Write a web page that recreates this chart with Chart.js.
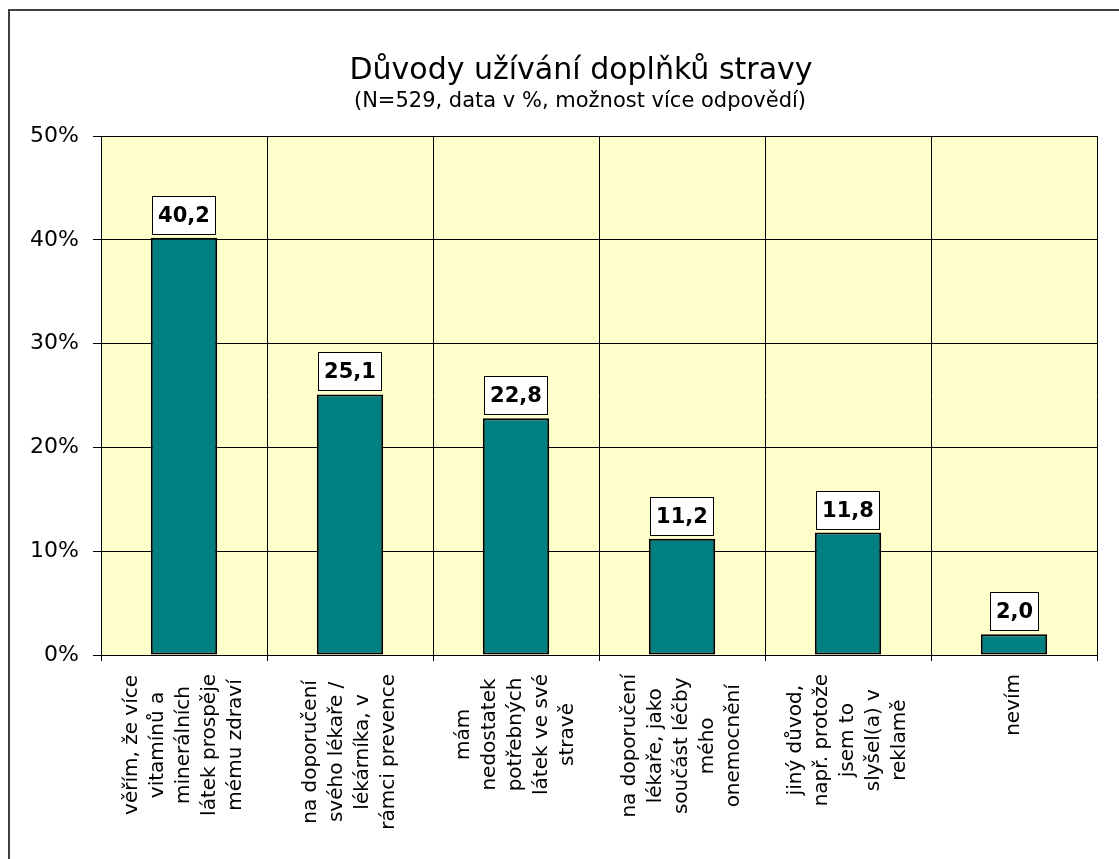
<!DOCTYPE html>
<html><head><meta charset="utf-8">
<script src="https://cdn.jsdelivr.net/npm/chart.js@4"></script>
<style>html,body{margin:0;padding:0;background:#fff;overflow:hidden}canvas{display:block}</style>
</head><body>
<canvas id="c" width="1119" height="859"></canvas>
<script>
const categories = [
  ["věřím, že více", "vitamínů a", "minerálních", "látek prospěje", "mému zdraví"],
  ["na doporučení", "svého lékaře /", "lékárníka, v", "rámci prevence"],
  ["mám", "nedostatek", "potřebných", "látek ve své", "stravě"],
  ["na doporučení", "lékaře, jako", "součást léčby", "mého", "onemocnění"],
  ["jiný důvod,", "např. protože", "jsem to", "slyšel(a) v", "reklamě"],
  ["nevím"]
];
const values = [40.2, 25.1, 22.8, 11.2, 11.8, 2.0];
const yTicks = [0, 10, 20, 30, 40, 50];
const titleText = "Důvody užívání doplňků stravy";
const subtitleText = "(N=529, data v %, možnost více odpovědí)";

const FONT = "'DejaVu Sans', Verdana, sans-serif";
Chart.defaults.font.family = FONT;
Chart.defaults.color = '#000';

const bgPlugin = {
  id: 'bg',
  beforeDraw(chart) {
    const {ctx, chartArea: a} = chart;
    ctx.save();
    ctx.fillStyle = '#fff';
    ctx.fillRect(0, 0, chart.width, chart.height);
    ctx.fillStyle = '#FFFFCC';
    ctx.fillRect(a.left, a.top, a.right - a.left, a.bottom - a.top);
    ctx.strokeStyle = '#404040';
    ctx.lineWidth = 2;
    ctx.beginPath();
    ctx.moveTo(9, chart.height);
    ctx.lineTo(9, 10);
    ctx.lineTo(chart.width, 10);
    ctx.stroke();
    // title + subtitle
    ctx.fillStyle = '#000';
    ctx.textAlign = 'center';
    ctx.textBaseline = 'middle';
    ctx.font = '30px ' + FONT;
    ctx.fillText(titleText, 581, 71);
    ctx.font = '21px ' + FONT;
    ctx.fillText(subtitleText, 580, 102);
    ctx.restore();
  }
};

const valueLabelPlugin = {
  id: 'valueLabels',
  afterDatasetsDraw(chart) {
    const {ctx} = chart;
    const meta = chart.getDatasetMeta(0);
    ctx.save();
    ctx.font = 'bold 21px ' + FONT;
    ctx.textAlign = 'center';
    ctx.textBaseline = 'middle';
    meta.data.forEach((bar, i) => {
      const txt = values[i].toFixed(1).replace('.', ',');
      const w = Math.round(ctx.measureText(txt).width + 12);
      const h = 39;
      const x = Math.round(bar.x - w / 2);
      const y = Math.round(bar.y - 3 - h);
      ctx.fillStyle = '#fff';
      ctx.fillRect(x, y, w, h);
      ctx.strokeStyle = '#000';
      ctx.lineWidth = 1;
      ctx.strokeRect(x + 0.5, y + 0.5, w - 1, h - 1);
      ctx.fillStyle = '#000';
      ctx.fillText(txt, x + w / 2, y + h / 2 + 1);
    });
    ctx.restore();
  }
};

const xLabelPlugin = {
  id: 'xLabels',
  afterDraw(chart) {
    const {ctx} = chart;
    const xs = chart.scales.x;
    ctx.save();
    ctx.font = '20px ' + FONT;
    ctx.fillStyle = '#000';
    ctx.textAlign = 'center';
    ctx.textBaseline = 'middle';
    categories.forEach((lines, i) => {
      const cx = xs.getPixelForValue(i);
      const maxW = Math.max(...lines.map(l => ctx.measureText(l).width));
      const cy = xs.top + 19 + maxW / 2;
      lines.forEach((l, j) => {
        const off = (j - (lines.length - 1) / 2) * 26;
        ctx.save();
        ctx.translate(cx + off, cy);
        ctx.rotate(-Math.PI / 2);
        ctx.fillText(l, 0, 0);
        ctx.restore();
      });
    });
    ctx.restore();
  }
};

new Chart(document.getElementById('c'), {
  type: 'bar',
  data: {
    labels: categories.map(l => l.join(' ')),
    datasets: [{
      data: values,
      backgroundColor: '#008080',
      borderColor: '#000',
      borderWidth: 2,
      borderSkipped: false,
      barPercentage: 0.4,
      categoryPercentage: 1.0
    }]
  },
  options: {
    responsive: false,
    animation: false,
    layout: {padding: {top: 136, left: 10, right: 22, bottom: 0}},
    plugins: {
      legend: {display: false},
      tooltip: {enabled: false},
      title: {display: false},
      subtitle: {display: false}
    },
    scales: {
      x: {
        grid: {offset: true, color: '#000', lineWidth: 1, tickLength: 6, drawTicks: true},
        border: {color: '#000', width: 1},
        ticks: {display: false},
        afterFit(s) { s.height = 204; }
      },
      y: {
        min: 0, max: 50,
        afterBuildTicks(s) { s.ticks = yTicks.map(v => ({value: v})); },
        ticks: {callback: v => v + '%', padding: 14, font: {size: 22}, color: '#000'},
        grid: {color: '#000', lineWidth: 1, tickLength: 8},
        border: {color: '#000', width: 1},
        afterFit(s) { s.width = 91; }
      }
    }
  },
  plugins: [bgPlugin, valueLabelPlugin, xLabelPlugin]
});
</script>
</body></html>
